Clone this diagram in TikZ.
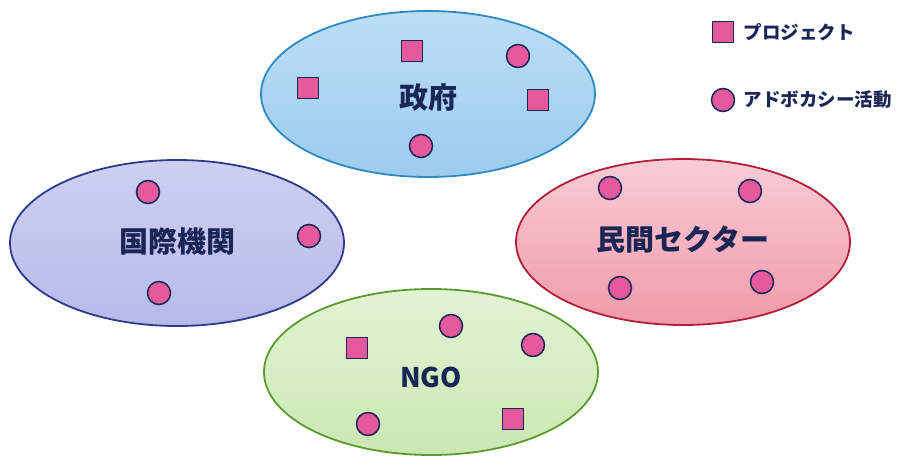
\documentclass[tikz,border=0pt]{standalone}
\usepackage{fontspec}
\setmainfont{Noto Sans CJK JP}
\usetikzlibrary{shapes.geometric}

\definecolor{ink}{HTML}{1B2656}
\definecolor{mark}{HTML}{E45A9C}
\definecolor{govline}{HTML}{2E8AC2}
\definecolor{govtop}{HTML}{BCDEF6}
\definecolor{govbottom}{HTML}{9CCBEF}
\definecolor{intlline}{HTML}{2E3A8C}
\definecolor{intltop}{HTML}{CDCFF2}
\definecolor{intlbottom}{HTML}{B6BAE9}
\definecolor{privateline}{HTML}{B01E3C}
\definecolor{privatetop}{HTML}{F8CCD6}
\definecolor{privatebottom}{HTML}{F09AA8}
\definecolor{ngoline}{HTML}{5A9A2E}
\definecolor{ngotop}{HTML}{E2F3D3}
\definecolor{ngobottom}{HTML}{CBE7B3}

\tikzset{
	group/.style = {ellipse, line width=1.8pt, minimum width=334pt, minimum height=166pt, inner sep=0pt},
	project/.style = {rectangle, draw=ink, fill=mark, line width=1.5pt, minimum size=21pt, inner sep=0pt},
	advocacy/.style = {circle, draw=ink, fill=mark, line width=1.5pt, minimum size=23pt, inner sep=0pt},
	title/.style = {text=ink, font=\fontsize{29}{32}\selectfont\bfseries},
	legend/.style = {text=ink, anchor=west, font=\fontsize{18.5}{22}\selectfont\bfseries}
}

\begin{document}
\begin{tikzpicture}[x=1pt, y=-1pt]
	\useasboundingbox (0, 0) rectangle (901, 457);
	
	% groups
	\node [group, draw=govline, top color=govtop, bottom color=govbottom] (gov) at (428, 94) {};
	\node [group, draw=intlline, top color=intltop, bottom color=intlbottom] (intl) at (177, 243) {};
	\node [group, draw=privateline, top color=privatetop, bottom color=privatebottom] (private) at (683, 242) {};
	\node [group, draw=ngoline, top color=ngotop, bottom color=ngobottom] (ngo) at (431, 372) {};
	
	% labels
	\node [title] (govtext) at (428, 98) {政府};
	\node [title] (intltext) at (177, 241) {国際機関};
	\node [title] (privatetext) at (683, 240) {民間セクター};
	\node [title, font=\fontsize{27}{30}\selectfont\bfseries] (ngotext) at (431, 377) {NGO};
	
	% 政府
	\node [project] (gov1) at (412, 51) {};
	\node [advocacy] (gov2) at (518, 56) {};
	\node [project] (gov3) at (308, 88) {};
	\node [project] (gov4) at (538, 100) {};
	\node [advocacy] (gov5) at (421, 146) {};
	
	% 国際機関
	\node [advocacy] (intl1) at (148, 192) {};
	\node [advocacy] (intl2) at (309, 236) {};
	\node [advocacy] (intl3) at (159, 293) {};
	
	% 民間セクター
	\node [advocacy] (private1) at (610, 188) {};
	\node [advocacy] (private2) at (750, 191) {};
	\node [advocacy] (private3) at (620, 288) {};
	\node [advocacy] (private4) at (762, 282) {};
	
	% NGO
	\node [project] (ngo1) at (357, 348) {};
	\node [advocacy] (ngo2) at (451, 326) {};
	\node [advocacy] (ngo3) at (533, 345) {};
	\node [advocacy] (ngo4) at (368, 424) {};
	\node [project] (ngo5) at (513, 419) {};
	
	% 凡例
	\node [project] (keyproject) at (723, 32) {};
	\node [legend] (keyprojecttext) at (740, 32) {プロジェクト};
	\node [advocacy] (keyadvocacy) at (723, 100) {};
	\node [legend] (keyadvocacytext) at (740, 100) {アドボカシー活動};
\end{tikzpicture}
\end{document}
